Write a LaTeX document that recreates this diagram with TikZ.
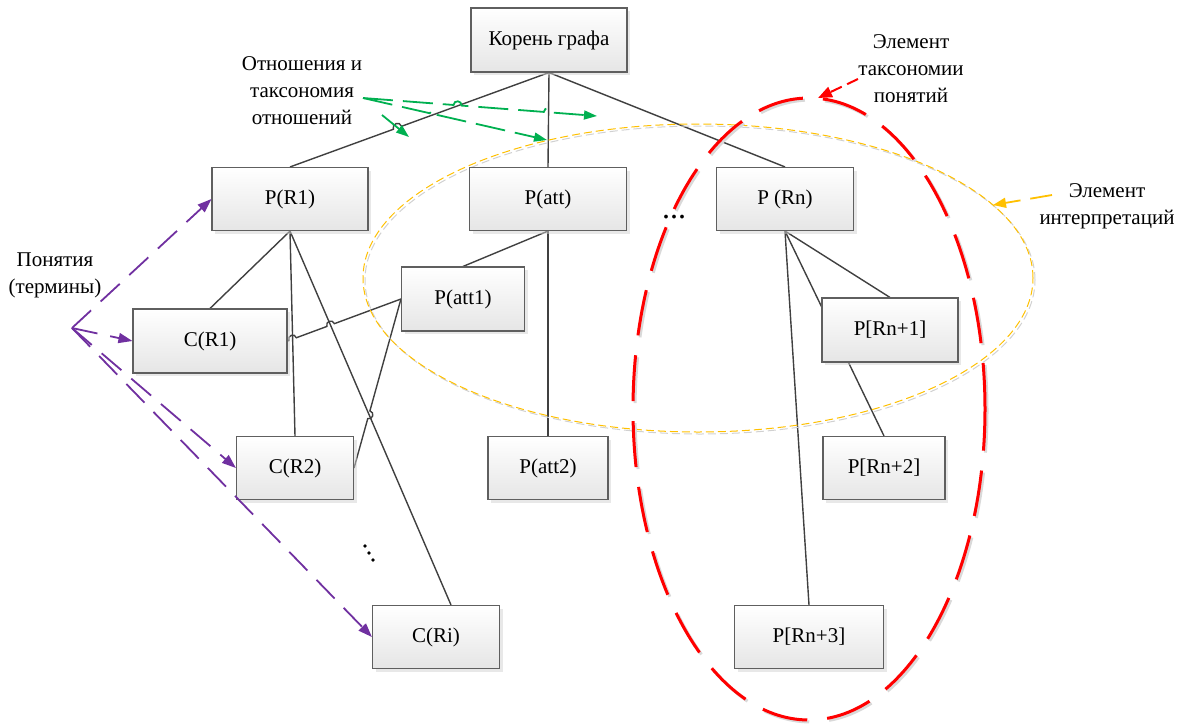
\documentclass[tikz,border=0pt]{standalone}
\usepackage{fontspec}
\setmainfont{Liberation Serif}
\usetikzlibrary{arrows.meta,shadows,calc}
\pgfdeclarelayer{bg}
\pgfsetlayers{bg,main}
\definecolor{edgegray}{HTML}{404040}
\definecolor{boxgray}{HTML}{5F5F5F}
\definecolor{mypurple}{HTML}{7030A0}
\definecolor{mygreen}{HTML}{00B050}
\definecolor{myorange}{HTML}{FFC000}
\definecolor{myred}{HTML}{FF0000}
\begin{document}
\begin{tikzpicture}[x=1pt,y=-1pt,
  box/.style={draw=boxgray, line width=1.1pt, top color=white, bottom color=black!10,
    drop shadow={shadow xshift=3pt,shadow yshift=-3pt,fill=black!18},
    font=\fontsize{21}{27}\selectfont, inner sep=0pt},
  lbl/.style={font=\fontsize{21}{27}\selectfont, align=center, inner sep=0pt},
  edge/.style={draw=edgegray, line width=1.4pt},
  hop/.style={bend right=90, looseness=1.7},
  hopl/.style={bend left=90, looseness=1.7},
  parrow/.style={draw=mypurple, line width=1.8pt, dash pattern=on 26pt off 13pt,
    -{Triangle[length=14pt,width=10pt]}},
  garrow/.style={draw=mygreen, line width=1.8pt, dash pattern=on 30pt off 10pt,
    -{Triangle[length=13pt,width=9pt]}},
  rarrow/.style={draw=myred, line width=2pt, dash pattern=on 12pt off 6pt,
    -{Triangle[length=14pt,width=11pt]}},
  yarrow/.style={draw=myorange, line width=1.8pt, dash pattern=on 22pt off 10pt,
    -{Triangle[length=13pt,width=10pt]}}
]
\useasboundingbox (0,0) rectangle (1184,726);

% nodes
\node[box, minimum width=156pt, minimum height=64pt] (root) at (549,40) {Корень графа};
\node[box, minimum width=156pt, minimum height=63pt] (PR1) at (290,199) {P(R1)};
\node[box, minimum width=157pt, minimum height=63pt] (Patt) at (548,199) {P(att)};
\node[box, minimum width=137pt, minimum height=63pt] (PRn) at (785,199) {P (Rn)};
\node[box, minimum width=154pt, minimum height=64pt] (CR1) at (210,341) {C(R1)};
\node[box, minimum width=123pt, minimum height=64pt] (Patt1) at (463,299) {P(att1)};
\node[box, minimum width=117pt, minimum height=63pt] (CR2) at (295,468) {C(R2)};
\node[box, minimum width=120pt, minimum height=63pt] (Patt2) at (548,468) {P(att2)};
\node[box, minimum width=127pt, minimum height=63pt] (CRi) at (436,637) {C(Ri)};
\node[box, minimum width=136pt, minimum height=64pt] (PRn1) at (890,330) {P[Rn+1]};
\node[box, minimum width=122pt, minimum height=63pt] (PRn2) at (884,468) {P[Rn+2]};
\node[box, minimum width=149pt, minimum height=63pt] (PRn3) at (809,637) {P[Rn+3]};

% labels
\node[lbl] (relLbl) at (302,91) {Отношения и\\таксономия\\отношений};
\node[lbl] (conLbl) at (55,275) {Понятия\\(термины)};
\node[lbl] (taxLbl) at (911,69) {Элемент\\таксономии\\понятий};
\node[lbl] (intLbl) at (1107,206) {Элемент\\интерпретаций};
\node[inner sep=0pt, anchor=base, font=\fontsize{32}{34}\selectfont] (dots) at (674,218) {...};

% free arrow ends
\coordinate (g0) at (363,98);
\coordinate (g1) at (597,116);
\coordinate (g2) at (547,140);
\coordinate (g3) at (382,115);
\coordinate (g4) at (409,137);
\coordinate (p0) at (72,328);
\coordinate (r0) at (858,79);
\coordinate (r1) at (818,98);
\coordinate (y0) at (1052,195);
\coordinate (y1) at (993,205);

\begin{pgfonlayer}{bg}
% edges
\draw[edge] (root.south) -- ($(root.south)!0.569!(PR1.north)$) to[hop] ($(root.south)!0.601!(PR1.north)$) -- (PR1.north);
\draw[edge] (root.south) -- (Patt.north);
\draw[edge] (root.south) -- (PRn.north);
\draw[edge] (PR1.south) -- (CR1.north);
\draw[edge] (PR1.south) -- (CR2.north);
\draw[edge] (PR1.south) -- ([xshift=15pt]CRi.north);
\draw[edge] (Patt.south) -- (Patt1.north);
\draw[edge] (Patt.south) -- (Patt2.north);
\draw[edge] (Patt1.west) -- ($(Patt1.west)!0.587!(CR1.east)$) to[hop] ($(Patt1.west)!0.653!(CR1.east)$)
  -- ($(Patt1.west)!0.922!(CR1.east)$) to[hop] ($(Patt1.west)!0.988!(CR1.east)$) -- (CR1.east);
\draw[edge] (Patt1.west) -- ($(Patt1.west)!0.662!(CR2.east)$) to[hopl] ($(Patt1.west)!0.708!(CR2.east)$) -- (CR2.east);
\draw[edge] (PRn.south) -- (PRn1.north);
\draw[edge] (PRn.south) -- (PRn2.north);
\draw[edge] (PRn.south) -- (PRn3.north);

% ellipses
\draw[black!18, line width=1pt, dash pattern=on 8pt off 4pt] (700,280) ellipse [x radius=335pt, y radius=154pt];
\draw[myorange, line width=1pt, dash pattern=on 8pt off 4pt] (698,278) ellipse [x radius=335pt, y radius=154pt];
\draw[black!15, line width=3pt, dash pattern=on 46pt off 20pt] (811,411) ellipse [x radius=176pt, y radius=311pt];
\draw[myred, line width=3pt, dash pattern=on 46pt off 20pt] (809,409) ellipse [x radius=176pt, y radius=311pt];
\end{pgfonlayer}

% green arrows
\draw[garrow] (g0) -- ($(g0)!0.387!(g1)$) to[hopl] ($(g0)!0.421!(g1)$) -- ($(g0)!0.773!(g1)$) to[hopl] ($(g0)!0.807!(g1)$) -- (g1);
\draw[garrow] (g0) -- ($(g0)!0.363!(g2)$) to[hopl] ($(g0)!0.405!(g2)$) -- (g2);
\draw[garrow] (g3) -- (g4);

% purple arrows
\draw[parrow] (p0) -- (PR1.west);
\draw[parrow] (p0) -- (CR1.west);
\draw[parrow] (p0) -- (CR2.west);
\draw[parrow] (p0) -- (CRi.west);

% red and orange arrows
\draw[rarrow] (r0) -- (r1);
\draw[yarrow] (y0) -- (y1);

% vertical dots
\fill (365,546) circle (1.8pt);
\fill (369,553) circle (1.8pt);
\fill (373,560) circle (1.8pt);
\end{tikzpicture}
\end{document}
